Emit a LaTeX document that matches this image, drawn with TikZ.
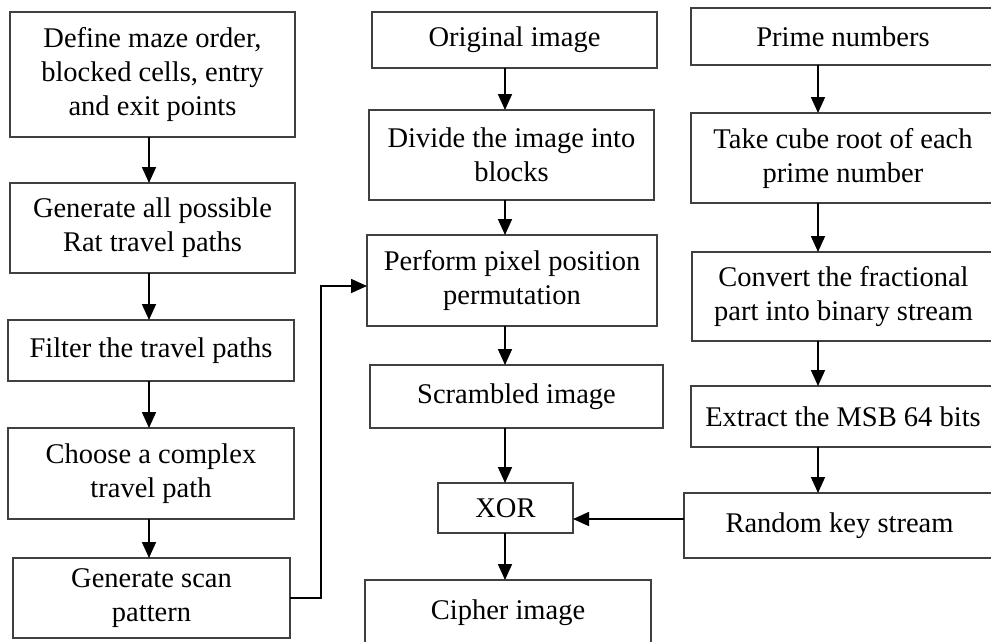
\documentclass[tikz,border=0pt]{standalone}
\usepackage{fontspec}
\setmainfont{Liberation Serif}
\usetikzlibrary{arrows.meta}
\begin{document}
\begin{tikzpicture}[x=1pt,y=-1pt,
  box/.style={draw=black!75,line width=1.6pt,fill=white,inner sep=0pt,outer sep=0pt,
    align=center,font=\fontsize{28.5}{34}\selectfont},
  arr/.style={draw=black,line width=1.7pt,-{Triangle[length=16pt,width=14pt]}},
  ln/.style={draw=black!80,line width=1.6pt}]
\useasboundingbox[fill=white] (0,0) rectangle (991,641);
% left column
\node[box,minimum width=285,minimum height=125] (b1) at (152.5,74.5) {Define maze order,\\blocked cells, entry\\and exit points};
\node[box,minimum width=285,minimum height=90] (b2) at (152.5,228) {Generate all possible\\Rat travel paths};
\node[box,minimum width=286,minimum height=61] (b3) at (151,350.5) {Filter the travel paths};
\node[box,minimum width=286,minimum height=91] (b4) at (151,473.5) {Choose a complex\\travel path};
\node[box,minimum width=277,minimum height=80] (b5) at (151.5,598) {Generate scan\\pattern};
% middle column
\node[box,minimum width=285,minimum height=56] (m1) at (514.5,40) {Original image};
\node[box,minimum width=285,minimum height=90] (m2) at (511.5,155) {Divide the image into\\blocks};
\node[box,minimum width=290,minimum height=91] (m3) at (512,280.5) {Perform pixel position\\permutation};
\node[box,minimum width=293,minimum height=63] (m4) at (516.5,396.5) {Scrambled image};
\node[box,minimum width=135,minimum height=50] (m5) at (505.5,508) {XOR};
\node[box,minimum width=286,minimum height=66] (m6) at (508,613) {Cipher image};
% right column
\node[box,minimum width=304,minimum height=57] (r1) at (843,36.5) {Prime numbers};
\node[box,minimum width=304,minimum height=90] (r2) at (843,158) {Take cube root of each\\prime number};
\node[box,minimum width=303,minimum height=89] (r3) at (843.5,296.5) {Convert the fractional\\part into binary stream};
\node[box,minimum width=304,minimum height=61] (r4) at (843,416.5) {Extract the MSB 64 bits};
\node[box,minimum width=311,minimum height=65] (r5) at (839.5,525.5) {Random key stream};
% column axes for connectors
\coordinate (lc) at (149,0);
\coordinate (mc) at (505,0);
\coordinate (rc) at (818,0);
\coordinate (lp) at (321,286);
\coordinate (ka) at (0,519);
% left arrows
\draw[arr] (b1.south -| lc) -- (b2.north -| lc);
\draw[arr] (b2.south -| lc) -- (b3.north -| lc);
\draw[arr] (b3.south -| lc) -- (b4.north -| lc);
\draw[arr] (b4.south -| lc) -- (b5.north -| lc);
% feedback to permutation
\draw[arr] (b5.east) -| (lp) -- (lp -| m3.west);
% middle arrows
\draw[arr] (m1.south -| mc) -- (m2.north -| mc);
\draw[arr] (m2.south -| mc) -- (m3.north -| mc);
\draw[arr] (m3.south -| mc) -- (m4.north -| mc);
\draw[arr] (m4.south -| mc) -- (m5.north -| mc);
\draw[arr] (m5.south -| mc) -- (m6.north -| mc);
% right arrows
\draw[arr] (r1.south -| rc) -- (r2.north -| rc);
\draw[arr] (r2.south -| rc) -- (r3.north -| rc);
\draw[arr] (r3.south -| rc) -- (r4.north -| rc);
\draw[arr] (r4.south -| rc) -- (r5.north -| rc);
% key stream to XOR
\draw[arr] (r5.west |- ka) -- (m5.east |- ka);
\end{tikzpicture}
\end{document}
